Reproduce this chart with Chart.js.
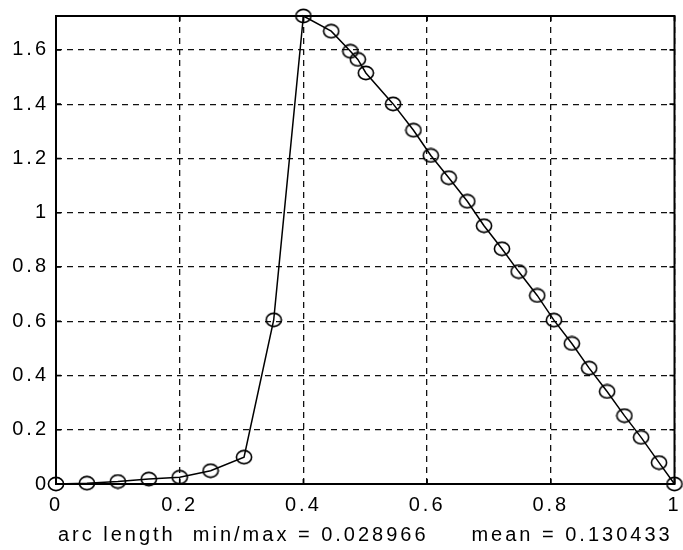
<!DOCTYPE html>
<html>
<head>
<meta charset="utf-8">
<script src="https://cdn.jsdelivr.net/npm/chart.js@4.4.0/dist/chart.umd.min.js"></script>
<style>
  html, body { margin: 0; padding: 0; background: #fff; }
  #c { display: block; }
</style>
</head>
<body>
<canvas id="c" width="683" height="550"></canvas>
<script>
// ---- data ----
const xValues = [0, 0.05, 0.1, 0.15, 0.2, 0.25, 0.304, 0.352, 0.4, 0.445, 0.476, 0.488, 0.501, 0.545, 0.578, 0.606, 0.635, 0.665, 0.692, 0.721, 0.748, 0.778, 0.805, 0.834, 0.862, 0.891, 0.919, 0.946, 0.975, 1.0];
const yValues = [0, 0.003, 0.009, 0.018, 0.025, 0.049, 0.099, 0.605, 1.725, 1.669, 1.595, 1.565, 1.515, 1.401, 1.304, 1.211, 1.129, 1.042, 0.952, 0.867, 0.783, 0.695, 0.604, 0.518, 0.427, 0.341, 0.252, 0.172, 0.079, 0];
const xTicks = [0, 0.2, 0.4, 0.6, 0.8, 1];
const xTickLabels = ['0', '0.2', '0.4', '0.6', '0.8', '1'];
const yTicks = [0, 0.2, 0.4, 0.6, 0.8, 1, 1.2, 1.4, 1.6];
const yTickLabels = ['0', '0.2', '0.4', '0.6', '0.8', '1', '1.2', '1.4', '1.6'];
const xTitle = 'arc length  min/max = 0.028966     mean = 0.130433';
const xMin = 0, xMax = 1, yMin = 0, yMax = 1.725;

const points = xValues.map((x, i) => ({ x: x, y: yValues[i] }));

// open ellipse marker
const marker = document.createElement('canvas');
marker.width = 18; marker.height = 16;
(function () {
  const m = marker.getContext('2d');
  m.strokeStyle = '#000';
  m.lineWidth = 1.6;
  m.beginPath();
  m.ellipse(9, 8, 7.6, 6.6, 0, 0, Math.PI * 2);
  m.stroke();
})();

const spacing = '3px';
const spacingPlugin = {
  id: 'spacing',
  beforeUpdate(chart) { chart.ctx.letterSpacing = spacing; },
  beforeLayout(chart) { chart.ctx.letterSpacing = spacing; },
  beforeDraw(chart) { chart.ctx.letterSpacing = spacing; }
};

const framePlugin = {
  id: 'frame',
  beforeDatasetsDraw(chart) {
    const { ctx, chartArea: a, scales } = chart;
    ctx.save();
    ctx.strokeStyle = '#000';
    ctx.lineWidth = 1.6;
    ctx.setLineDash([]);
    const tl = 5;
    ctx.beginPath();
    scales.x.ticks.forEach(t => {
      const px = scales.x.getPixelForValue(t.value);
      ctx.moveTo(px, a.bottom); ctx.lineTo(px, a.bottom - tl);
      ctx.moveTo(px, a.top); ctx.lineTo(px, a.top + tl);
    });
    scales.y.ticks.forEach(t => {
      const py = scales.y.getPixelForValue(t.value);
      ctx.moveTo(a.left, py); ctx.lineTo(a.left + tl, py);
      ctx.moveTo(a.right, py); ctx.lineTo(a.right - tl, py);
    });
    ctx.stroke();
    ctx.lineWidth = 2;
    ctx.strokeRect(a.left, a.top, a.right - a.left, a.bottom - a.top);
    ctx.restore();
  }
};

const tickFont = { family: '"Liberation Sans", Arial, sans-serif', size: 20 };

new Chart(document.getElementById('c'), {
  type: 'line',
  data: {
    datasets: [{
      data: points,
      borderColor: '#000',
      borderWidth: 1.5,
      backgroundColor: 'rgba(0,0,0,0)',
      pointStyle: marker,
      pointRadius: 7,
      pointBorderColor: '#000',
      pointBackgroundColor: 'rgba(0,0,0,0)',
      tension: 0,
      fill: false,
      clip: false
    }]
  },
  options: {
    responsive: false,
    animation: false,
    events: [],
    layout: { padding: { top: 16, right: 7, left: 0, bottom: 0 } },
    plugins: { legend: { display: false }, tooltip: { enabled: false } },
    scales: {
      x: {
        type: 'linear',
        min: xMin, max: xMax,
        afterBuildTicks(scale) { scale.ticks = xTicks.map(v => ({ value: v })); },
        afterFit(scale) { scale.height = 66; scale.paddingLeft = 0; scale.paddingRight = 0; },
        ticks: {
          color: '#000',
          font: tickFont,
          padding: 9,
          maxRotation: 0,
          autoSkip: false,
          callback: (v) => { const i = xTicks.indexOf(v); return i >= 0 ? xTickLabels[i] : ''; }
        },
        grid: { color: '#111', lineWidth: 1.3, drawTicks: false },
        border: { display: false, dash: [6, 5] },
        title: {
          display: true,
          text: xTitle,
          color: '#000',
          font: tickFont,
          padding: { top: 0, bottom: 3 }
        }
      },
      y: {
        type: 'linear',
        min: yMin, max: yMax,
        afterBuildTicks(scale) { scale.ticks = yTicks.map(v => ({ value: v })); },
        afterFit(scale) { scale.width = 56; scale.paddingTop = 0; scale.paddingBottom = 0; },
        ticks: {
          color: '#000',
          font: tickFont,
          padding: 7,
          autoSkip: false,
          callback: (v) => { const i = yTicks.indexOf(v); return i >= 0 ? yTickLabels[i] : ''; }
        },
        grid: { color: '#111', lineWidth: 1.3, drawTicks: false },
        border: { display: false, dash: [6, 5] }
      }
    }
  },
  plugins: [spacingPlugin, framePlugin]
});
</script>
</body>
</html>
